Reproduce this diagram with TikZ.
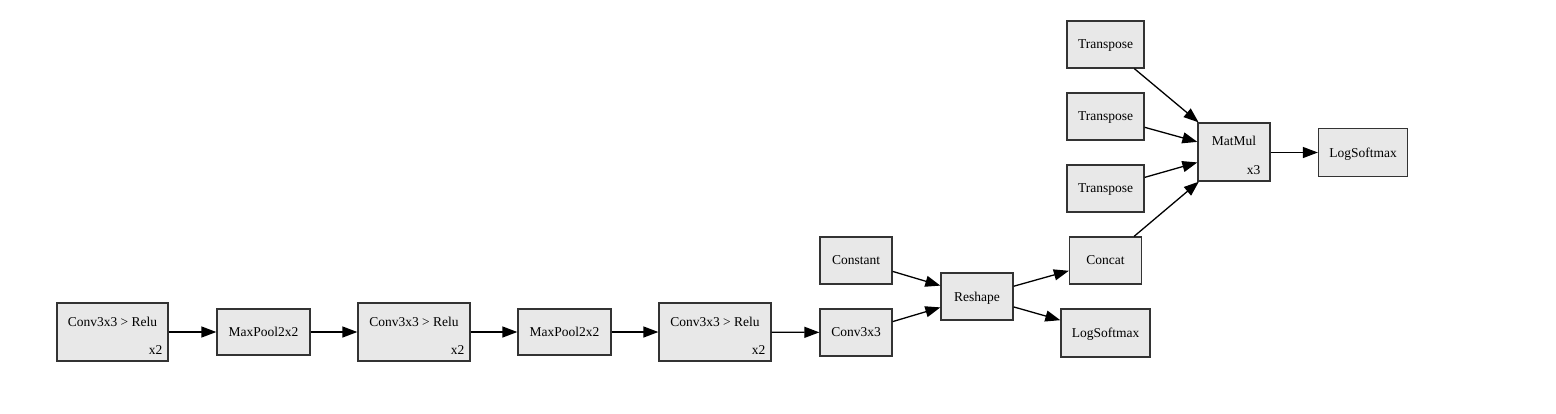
\documentclass[tikz,border=0pt]{standalone}
\usepackage{fontspec}
\setmainfont{Liberation Serif}
\usetikzlibrary{arrows.meta}
\definecolor{boxgray}{HTML}{E8E8E8}
\definecolor{boxline}{HTML}{333333}
\tikzset{
  box/.style={draw=boxline, fill=boxgray, line width=1.3pt, inner sep=0pt, text depth=0pt, font=\fontsize{13.5}{15}\selectfont},
  txt/.style={inner sep=0pt, text depth=0pt, font=\fontsize{13.5}{15}\selectfont},
  arr/.style={line width=1.3pt, -{Triangle[length=15pt,width=11pt]}},
}
\begin{document}
\begin{tikzpicture}[x=1pt,y=-1pt]
\useasboundingbox (0,0) rectangle (1556,413);
% chain
\node[box, minimum width=111pt, minimum height=58pt] (c1) at (112.5,332) {};
\node[txt] (c1t) at (112.5,322) {Conv3x3 > Relu};
\node[txt, anchor=base east] (c1x) at ([xshift=-6pt,yshift=7pt]c1.south east) {x2};
\node[box, minimum width=93pt, minimum height=46pt] (m1) at (263.5,332) {MaxPool2x2};
\node[box, minimum width=112pt, minimum height=58pt] (c2) at (414,332) {};
\node[txt] (c2t) at (414,322) {Conv3x3 > Relu};
\node[txt, anchor=base east] (c2x) at ([xshift=-6pt,yshift=7pt]c2.south east) {x2};
\node[box, minimum width=93pt, minimum height=46pt] (m2) at (564.5,332) {MaxPool2x2};
\node[box, minimum width=112pt, minimum height=58pt] (c3) at (715,332) {};
\node[txt] (c3t) at (715,322) {Conv3x3 > Relu};
\node[txt, anchor=base east] (c3x) at ([xshift=-6pt,yshift=7pt]c3.south east) {x2};
\node[box, minimum width=72pt, minimum height=47pt] (cv) at (856,332.5) {Conv3x3};
\node[box, minimum width=72pt, minimum height=47pt] (const) at (856,260.5) {Constant};
\node[box, minimum width=72pt, minimum height=47pt] (resh) at (977,296.5) {Reshape};
\node[box, minimum width=72pt, minimum height=47pt] (conc) at (1105.5,260.5) {Concat};
\node[box, minimum width=89pt, minimum height=48pt] (ls1) at (1105.5,333) {LogSoftmax};
\node[box, minimum width=77pt, minimum height=47pt] (t1) at (1105.5,44.5) {Transpose};
\node[box, minimum width=77pt, minimum height=47pt] (t2) at (1105.5,116.5) {Transpose};
\node[box, minimum width=77pt, minimum height=47pt] (t3) at (1105.5,188.5) {Transpose};
\node[box, minimum width=72pt, minimum height=58pt] (mm) at (1234,152) {};
\node[txt] (mmt) at (1234,141) {MatMul};
\node[txt, anchor=base east] (mmx) at ([xshift=-10pt,yshift=7pt]mm.south east) {x3};
\node[box, minimum width=89pt, minimum height=48pt] (ls2) at (1363,152.5) {LogSoftmax};
% edges
\draw[arr] (c1) -- (m1);
\draw[arr] (m1) -- (c2);
\draw[arr] (c2) -- (m2);
\draw[arr] (m2) -- (c3);
\draw[arr] (c3) -- (cv);
\draw[arr] (const) -- (resh);
\draw[arr] (cv) -- (resh);
\draw[arr] (resh) -- (conc);
\draw[arr] (resh) -- (ls1);
\draw[arr] (t1) -- (mm);
\draw[arr] (t2) -- (mm);
\draw[arr] (t3) -- (mm);
\draw[arr] (conc) -- (mm);
\draw[arr] (mm.east |- ls2.west) -- (ls2.west);
\end{tikzpicture}
\end{document}
